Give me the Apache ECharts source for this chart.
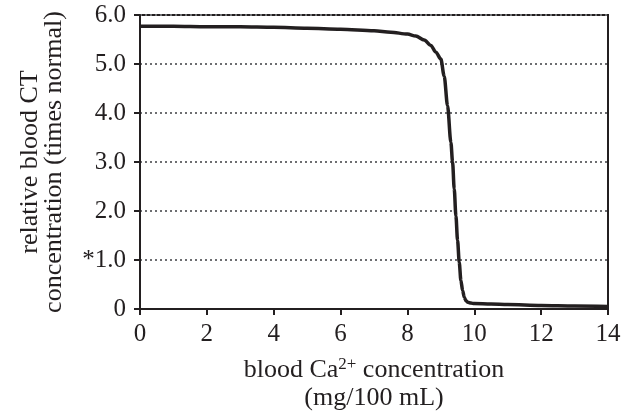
<!DOCTYPE html>
<html>
<head>
<meta charset="utf-8">
<script src="https://cdn.jsdelivr.net/npm/echarts@6/dist/echarts.min.js"></script>
<style>
  html, body { margin: 0; padding: 0; background: #fff; }
  #chart { width: 635px; height: 417px; }
</style>
</head>
<body>
<div id="chart"></div>
<script>
// blood Ca2+ (mg/100 mL) vs relative blood CT
const calcium = [0, 1, 2, 3, 4, 5, 6, 7, 7.5, 8, 8.25, 8.5, 8.7, 8.85, 9.0, 9.1, 9.2, 9.3, 9.35, 9.4, 9.45, 9.5, 9.55, 9.6, 9.65, 9.7, 9.75, 9.8, 9.9, 10, 10.5, 11, 12, 13, 14];
const ctLevel = [5.77, 5.77, 5.76, 5.76, 5.75, 5.73, 5.71, 5.68, 5.65, 5.61, 5.57, 5.49, 5.38, 5.24, 5.1, 4.75, 4.15, 3.4, 3.0, 2.45, 1.9, 1.4, 0.95, 0.58, 0.38, 0.24, 0.17, 0.14, 0.12, 0.11, 0.1, 0.09, 0.07, 0.06, 0.05];
const yTickLabels = { 0: '0', 1: '*1.0', 2: '2.0', 3: '3.0', 4: '4.0', 5: '5.0', 6: '6.0' };

const chart = echarts.init(document.getElementById('chart'));
const font = '"Liberation Serif", "DejaVu Serif", serif';
const ink = '#231f20';

chart.setOption({
  animation: false,
  textStyle: { fontFamily: font },
  grid: {
    left: 140, right: 27, top: 15, bottom: 107,
    show: true, borderColor: ink, borderWidth: 2
  },
  xAxis: {
    type: 'value',
    min: 0, max: 14, interval: 2,
    axisLine: { show: true, lineStyle: { color: ink, width: 2 } },
    axisTick: { show: true, inside: false, length: 6, lineStyle: { color: ink, width: 2 } },
    axisLabel: { color: ink, fontSize: 25, fontFamily: font, margin: 13 },
    splitLine: { show: false },
    name: '{a|blood Ca}{sup|2+}{a| concentration}\n{a|(mg/100 mL)}',
    nameLocation: 'middle',
    nameGap: 47,
    nameTextStyle: {
      color: ink,
      fontFamily: font,
      lineHeight: 28,
      rich: {
        a: { fontSize: 26, fontFamily: font, color: ink, lineHeight: 28 },
        sup: { fontSize: 17, fontFamily: font, color: ink, verticalAlign: 'top', lineHeight: 28, padding: [0, 0, 10, 0] }
      }
    }
  },
  yAxis: {
    type: 'value',
    min: 0, max: 6, interval: 1,
    axisLine: { show: true, lineStyle: { color: ink, width: 2 } },
    axisTick: { show: true, inside: false, length: 6, lineStyle: { color: ink, width: 2 } },
    axisLabel: {
      color: ink, fontSize: 25, fontFamily: font, margin: 14,
      formatter: v => yTickLabels[v]
    },
    splitLine: { show: true, lineStyle: { color: '#6d6e71', width: 2, type: [2, 3] } },
    name: 'relative blood CT\nconcentration (times normal)',
    nameLocation: 'middle',
    nameGap: 74,
    nameTextStyle: { color: ink, fontSize: 26, fontFamily: font, lineHeight: 24 }
  },
  series: [{
    type: 'line',
    data: calcium.map((x, i) => [x, ctLevel[i]]),
    showSymbol: false,
    smooth: 0.3,
    smoothMonotone: 'x',
    lineStyle: { color: ink, width: 3.5 },
    z: 5
  }]
});
</script>
</body>
</html>
